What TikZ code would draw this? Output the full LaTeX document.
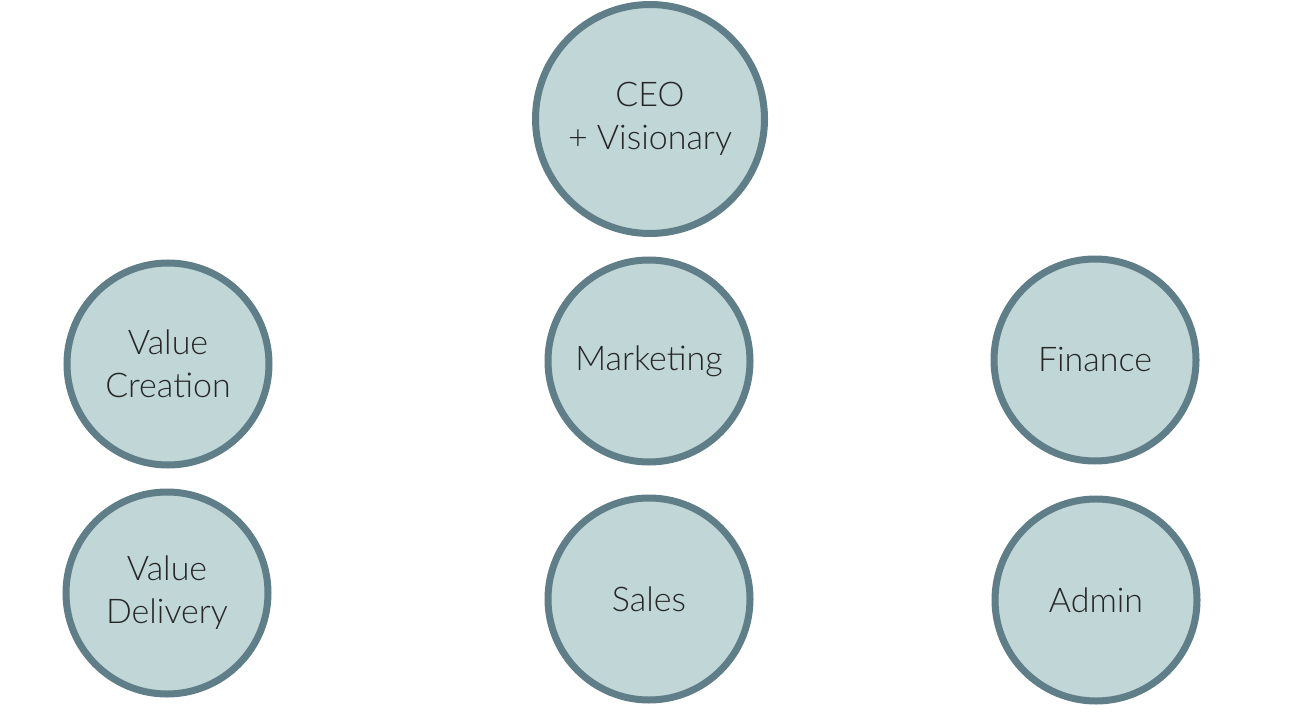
\documentclass[tikz,border=0pt]{standalone}
\usepackage{fontspec}
\setmainfont{Lato}[UprightFont=* Light]
\usepackage{xcolor}
\usepackage{tikz}
\definecolor{roleFill}{HTML}{C0D6D7}
\definecolor{roleLine}{HTML}{5F7E88}
\definecolor{roleText}{HTML}{262626}
\pgfkeys{tikz/myrole/.style={circle,draw=roleLine,fill=roleFill,line width=7pt,inner sep=0pt,minimum size=202pt,text=roleText,align=center,font=\fontsize{34}{43}\selectfont}}
\pgfkeys{tikz/myrolebig/.style={myrole,minimum size=229pt}}

\begin{document}
\begin{tikzpicture}[x=1pt,y=-1pt]
    \useasboundingbox (0,0) rectangle (1300,722);
    \node[myrolebig] (ceo) at (650,119) {CEO\\+ Visionary};
    \node[myrole] (creation) at (168,364) {Value\\Creation};
    \node[myrole] (delivery) at (167,593) {Value\\Delivery};
    \node[myrole] (marketing) at (649,361) {Marketing};
    \node[myrole] (sales) at (649,599) {Sales};
    \node[myrole] (finance) at (1095,360) {Finance};
    \node[myrole] (admin) at (1096,600) {Admin};
\end{tikzpicture}
\end{document}
